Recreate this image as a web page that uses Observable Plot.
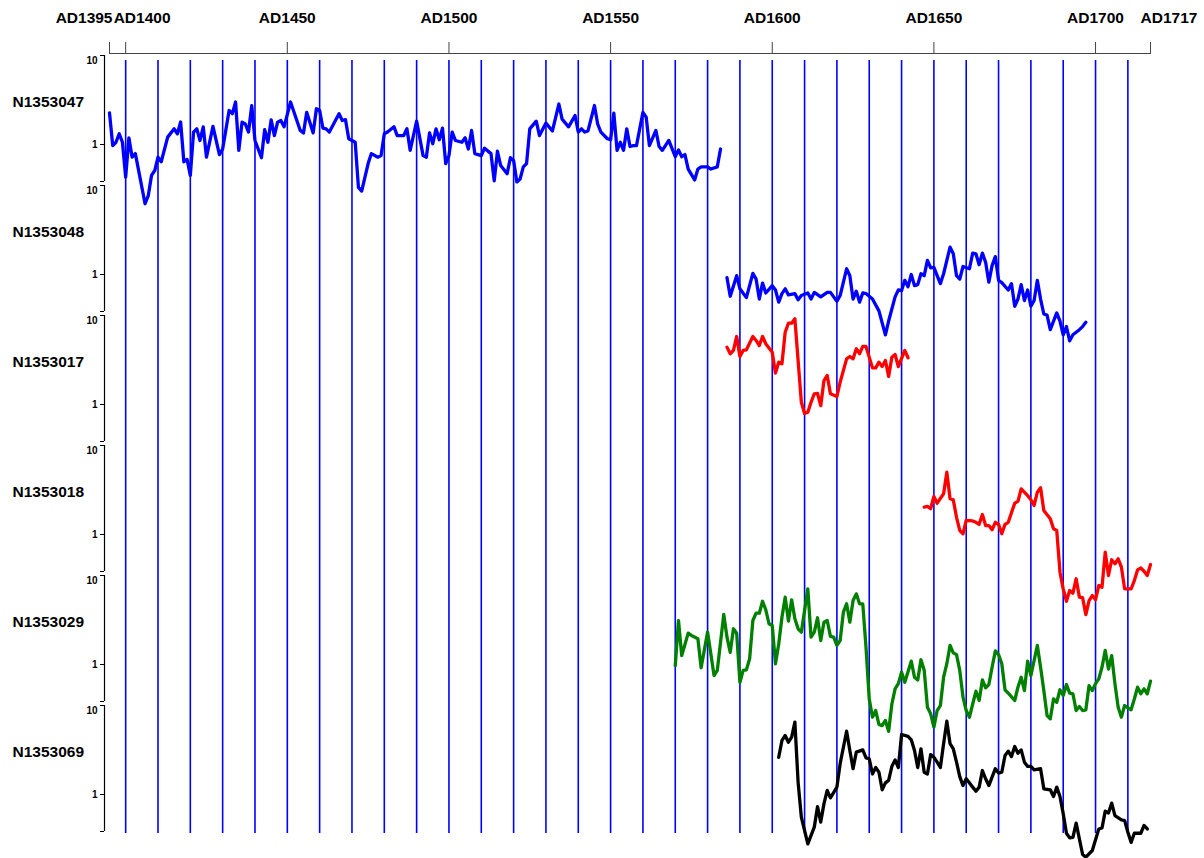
<!DOCTYPE html>
<html>
<head>
<meta charset="utf-8">
<script src="https://cdn.jsdelivr.net/npm/d3@7"></script>
<script src="https://cdn.jsdelivr.net/npm/@observablehq/plot@0.6"></script>
<style>
  body { margin: 0; background: #fff; }
  #chart svg { display: block; }
</style>
</head>
<body>
<div id="chart"></div>
<script>
// ---- data ----
const seriesNames = ["N1353047", "N1353048", "N1353017", "N1353018", "N1353029", "N1353069"];
const seriesColors = ["#0000ff", "#0000ff", "#ff0000", "#ff0000", "#008000", "#000000"];

const axisYears = [1395, 1400, 1450, 1500, 1550, 1600, 1650, 1700, 1717];
const centeredLabelYears = [1450, 1500, 1550, 1600, 1650, 1700];
const gridYears = [1400, 1410, 1420, 1430, 1440, 1450, 1460, 1470, 1480, 1490, 1500, 1510, 1520, 1530, 1540, 1550,
  1560, 1570, 1580, 1590, 1600, 1610, 1620, 1630, 1640, 1650, 1660, 1670, 1680, 1690, 1700, 1710];
const yTickValues = [10, 1];
const yBottom = 0.384;
const yTop = 10;

const n1353047 = [[1395,2.27],[1396,0.97],[1397,1.06],[1398,1.32],[1399,1.06],[1400,0.43],[1401,1.19],[1402,0.72],[1403,0.79],
  [1406,0.216],[1407,0.267],[1408,0.45],[1409,0.51],[1410,0.72],[1411,0.64],[1413,1.21],[1415,1.50],[1416,1.32],[1417,1.79],
  [1418,0.64],[1419,0.68],[1420,0.45],[1421,1.38],[1422,1.50],[1423,1.11],[1424,1.58],[1425,0.72],[1427,1.60],[1429,0.77],
  [1430,0.89],[1432,2.41],[1433,2.22],[1434,3.0],[1435,0.86],[1436,1.78],[1437,1.70],[1438,1.38],[1439,2.74],[1440,1.11],
  [1442,0.71],[1443,1.47],[1444,1.06],[1445,1.89],[1446,1.26],[1447,1.78],[1448,1.86],[1449,1.58],[1451,3.0],[1454,1.44],
  [1455,1.35],[1456,2.30],[1458,1.35],[1459,2.52],[1460,2.41],[1461,1.53],[1462,1.50],[1463,1.38],[1466,2.22],[1467,1.86],
  [1468,1.90],[1469,1.16],[1471,1.06],[1472,0.33],[1473,0.30],[1475,0.61],[1476,0.79],[1478,0.72],[1479,0.75],[1480,1.32],
  [1481,1.38],[1483,1.58],[1484,1.26],[1486,1.26],[1487,1.50],[1488,0.86],[1490,1.83],[1492,0.75],[1493,0.72],[1494,1.35],
  [1495,1.02],[1496,1.50],[1497,1.13],[1498,1.53],[1499,0.61],[1500,0.75],[1501,1.38],[1502,1.11],[1504,1.06],[1505,1.19],
  [1506,0.89],[1507,1.44],[1508,0.79],[1510,0.75],[1511,0.91],[1513,0.79],[1514,0.39],[1515,0.84],[1516,0.58],[1518,0.47],
  [1519,0.71],[1520,0.66],[1521,0.38],[1522,0.41],[1523,0.56],[1524,0.61],[1525,1.50],[1527,1.83],[1528,1.26],[1530,1.74],
  [1532,1.42],[1534,2.85],[1535,1.93],[1537,1.58],[1539,2.12],[1540,1.38],[1541,1.50],[1542,1.38],[1543,1.42],[1545,2.74],
  [1546,1.70],[1547,1.38],[1549,1.16],[1550,1.13],[1551,2.25],[1552,0.86],[1553,1.06],[1554,0.86],[1555,1.50],[1556,0.95],
  [1557,0.97],[1558,0.97],[1560,2.30],[1561,2.03],[1562,0.97],[1564,1.44],[1565,0.95],[1566,0.86],[1568,1.11],[1570,0.73],
  [1571,0.87],[1572,0.73],[1573,0.77],[1574,0.53],[1576,0.40],[1577,0.53],[1578,0.56],[1580,0.56],[1581,0.53],[1583,0.56],
  [1584,0.89]];

const n1353048 = [[1586,0.92],[1587,0.57],[1589,0.97],[1590,0.69],[1592,0.55],[1594,1.03],[1595,0.89],[1596,0.53],[1597,0.80],
  [1598,0.62],[1600,0.75],[1601,0.67],[1602,0.49],[1603,0.61],[1604,0.69],[1605,0.59],[1607,0.61],[1608,0.52],[1609,0.58],
  [1611,0.62],[1612,0.53],[1613,0.63],[1615,0.56],[1617,0.63],[1618,0.63],[1619,0.56],[1620,0.50],[1621,0.58],[1623,1.16],
  [1624,0.97],[1625,0.53],[1626,0.65],[1627,0.49],[1628,0.62],[1629,0.61],[1631,0.53],[1633,0.39],[1635,0.21],[1636,0.30],
  [1638,0.56],[1639,0.67],[1640,0.66],[1641,0.86],[1642,0.73],[1643,1.0],[1644,0.75],[1645,0.77],[1646,1.02],[1647,0.97],
  [1648,1.44],[1649,1.19],[1650,1.20],[1652,0.79],[1653,1.02],[1655,2.03],[1656,1.71],[1657,0.97],[1658,0.89],[1659,1.23],
  [1661,1.16],[1662,1.74],[1663,1.71],[1664,1.29],[1665,1.74],[1666,1.37],[1667,0.82],[1668,1.26],[1669,1.59],[1670,0.86],
  [1671,0.81],[1673,0.67],[1674,0.79],[1675,0.44],[1676,0.53],[1677,0.77],[1678,0.51],[1679,0.67],[1680,0.44],[1681,0.51],
  [1682,0.86],[1683,0.53],[1684,0.36],[1685,0.35],[1686,0.24],[1688,0.37],[1689,0.30],[1690,0.21],[1691,0.26],[1692,0.18],
  [1693,0.21],[1695,0.24],[1696,0.26],[1697,0.29]];

const n1353017 = [[1586,4.41],[1587,3.72],[1588,4.05],[1589,5.81],[1590,3.46],[1591,4.05],[1592,4.12],[1594,5.81],[1595,5.24],
  [1596,4.60],[1597,5.81],[1598,4.81],[1600,3.87],[1601,2.25],[1602,2.99],[1603,2.87],[1604,6.49],[1605,8.19],[1606,8.19],
  [1607,9.18],[1609,1.06],[1610,0.79],[1611,0.82],[1612,1.06],[1613,1.32],[1614,1.33],[1615,0.97],[1616,1.86],[1617,2.12],
  [1618,1.32],[1620,1.23],[1621,1.78],[1623,3.26],[1624,3.46],[1625,3.26],[1626,4.23],[1627,3.72],[1628,4.49],[1629,4.49],
  [1631,2.58],[1632,2.58],[1633,2.99],[1634,2.67],[1635,3.12],[1636,2.07],[1637,3.40],[1638,3.65],[1639,2.67],[1641,4.05],
  [1642,3.35]];

const n1353018 = [[1647,2.03],[1648,2.07],[1649,1.95],[1650,2.67],[1651,2.25],[1653,2.87],[1654,5.01],[1655,2.52],[1656,2.45],
  [1657,1.56],[1658,1.11],[1659,1.02],[1660,1.44],[1662,1.42],[1663,1.37],[1664,1.30],[1665,1.68],[1666,1.26],[1667,1.26],
  [1668,1.13],[1669,1.37],[1670,1.30],[1671,1.02],[1672,1.30],[1673,1.37],[1675,2.25],[1676,2.36],[1677,3.26],[1679,2.74],
  [1680,2.45],[1681,2.12],[1682,2.99],[1683,3.35],[1684,1.86],[1686,1.50],[1687,1.16],[1688,1.11],[1689,0.377],[1690,0.245],
  [1691,0.178],[1692,0.235],[1693,0.219],[1694,0.318],[1695,0.198],[1696,0.195],[1697,0.126],[1698,0.181],[1699,0.206],
  [1700,0.185],[1701,0.267],[1702,0.256],[1703,0.632],[1704,0.346],[1705,0.52],[1706,0.469],[1707,0.533],[1708,0.43],
  [1709,0.245],[1711,0.245],[1712,0.304],[1713,0.40],[1714,0.42],[1715,0.387],[1716,0.346],[1717,0.46]];

const n1353029 = [[1570,0.97],[1571,3.12],[1572,1.26],[1574,2.25],[1575,2.12],[1577,1.95],[1578,0.92],[1580,2.31],[1581,1.32],
  [1582,0.75],[1583,0.86],[1585,3.65],[1586,2.03],[1587,1.37],[1588,2.52],[1589,2.25],[1590,0.63],[1591,0.86],[1592,0.87],
  [1593,1.16],[1594,3.12],[1595,3.77],[1596,3.77],[1597,5.14],[1598,4.12],[1599,2.87],[1600,2.74],[1601,1.02],[1602,1.70],
  [1603,3.40],[1604,5.70],[1605,3.07],[1606,5.33],[1607,3.26],[1608,2.52],[1609,2.31],[1611,7.09],[1612,2.03],[1613,2.31],
  [1614,3.35],[1615,1.86],[1616,2.99],[1617,3.12],[1618,2.07],[1619,2.03],[1620,1.64],[1621,1.86],[1622,3.87],[1623,4.81],
  [1624,2.99],[1625,5.24],[1626,6.22],[1627,4.81],[1628,4.81],[1629,1.56],[1630,0.41],[1631,0.256],[1632,0.304],[1633,0.212],
  [1634,0.206],[1635,0.235],[1636,0.178],[1637,0.36],[1638,0.533],[1639,0.61],[1640,0.82],[1641,0.632],[1643,1.09],[1644,0.72],
  [1645,0.67],[1646,1.13],[1647,0.86],[1648,0.33],[1649,0.279],[1650,0.198],[1651,0.304],[1652,0.346],[1653,0.72],[1654,1.02],
  [1655,1.64],[1656,1.35],[1657,1.29],[1658,0.86],[1659,0.43],[1660,0.304],[1661,0.256],[1662,0.36],[1663,0.50],[1664,0.394],
  [1665,0.67],[1666,0.547],[1667,0.596],[1668,0.93],[1669,1.42],[1670,1.29],[1671,1.02],[1672,0.52],[1673,0.476],[1675,0.394],
  [1676,0.556],[1677,0.72],[1678,0.51],[1679,1.09],[1680,0.75],[1681,1.11],[1682,1.64],[1683,0.93],[1684,0.51],[1685,0.267],
  [1686,0.245],[1687,0.41],[1688,0.377],[1689,0.52],[1690,0.449],[1691,0.596],[1692,0.476],[1693,0.469],[1694,0.304],
  [1695,0.337],[1696,0.304],[1697,0.31],[1698,0.58],[1699,0.51],[1700,0.61],[1701,0.69],[1702,0.93],[1703,1.44],[1704,0.89],
  [1705,1.26],[1706,0.61],[1707,0.33],[1708,0.256],[1709,0.346],[1711,0.31],[1712,0.41],[1713,0.556],[1714,0.469],[1715,0.533],
  [1716,0.469],[1717,0.65]];

const n1353069 = [[1602,2.62],[1603,4.05],[1604,4.60],[1605,3.87],[1606,4.41],[1607,6.49],[1608,1.37],[1609,0.556],[1611,0.279],
  [1613,0.43],[1614,0.73],[1615,0.49],[1616,0.79],[1617,1.11],[1618,0.918],[1620,1.21],[1621,2.22],[1623,5.14],[1624,3.12],
  [1625,1.95],[1626,2.99],[1628,3.17],[1629,2.58],[1630,2.52],[1631,1.70],[1632,2.01],[1633,1.78],[1634,1.13],[1635,1.35],
  [1636,1.44],[1637,2.07],[1638,2.45],[1639,2.01],[1640,4.72],[1642,4.49],[1643,4.12],[1644,3.12],[1645,2.01],[1646,3.26],
  [1647,1.78],[1648,1.70],[1649,2.81],[1650,2.62],[1651,2.31],[1652,2.01],[1653,3.72],[1654,6.67],[1655,3.72],[1656,3.26],
  [1657,2.31],[1658,1.59],[1659,1.26],[1660,1.50],[1662,1.21],[1663,1.09],[1664,1.21],[1665,1.86],[1666,1.50],[1667,1.26],
  [1669,1.95],[1670,1.74],[1671,1.78],[1672,2.74],[1673,3.07],[1674,2.67],[1675,3.46],[1676,2.91],[1677,3.17],[1678,2.31],
  [1679,2.07],[1680,2.07],[1681,1.89],[1683,1.95],[1684,1.16],[1686,1.13],[1687,0.95],[1688,1.21],[1689,0.95],[1690,0.61],
  [1691,0.367],[1692,0.326],[1693,0.33],[1694,0.476],[1696,0.212],[1697,0.198],[1699,0.235],[1701,0.41],[1702,0.42],
  [1703,0.65],[1704,0.62],[1705,0.80],[1706,0.58],[1708,0.52],[1709,0.51],[1710,0.377],[1711,0.29],[1712,0.367],[1714,0.367],
  [1715,0.449],[1716,0.41]];

const seriesData = [n1353047, n1353048, n1353017, n1353018, n1353029, n1353069];

// ---- chart ----
const first = seriesNames[0];
const gridFirst = gridYears.map(year => ({series: first, year}));
const gridRest = seriesNames.slice(1).flatMap(series => gridYears.map(year => ({series, year})));

const lineMarks = seriesNames.map((name, i) =>
  Plot.line(seriesData[i], {
    x: d => d[0], y: d => d[1], fy: () => name,
    stroke: seriesColors[i], strokeWidth: 3.3, strokeLinejoin: "round", strokeLinecap: "round"
  })
);

const chart = Plot.plot({
  width: 1204,
  height: 858,
  marginLeft: 104,
  marginRight: 54,
  marginTop: 53,
  marginBottom: 25,
  style: {
    fontFamily: "'Liberation Sans', Arial, Helvetica, sans-serif",
    fontWeight: "bold",
    fontSize: "15.5px",
    color: "black",
    background: "white",
    overflow: "visible"
  },
  x: {domain: [1395, 1717], insetLeft: 5, axis: null, label: null},
  y: {type: "log", domain: [yBottom, yTop], insetTop: 2, insetBottom: 2, axis: null, label: null},
  fy: {domain: seriesNames, padding: 0, axis: null, label: null},
  marks: [
    // vertical decade lines
    Plot.ruleX(gridFirst, {x: "year", fy: "series", stroke: "#0000ff", strokeWidth: 1.6, insetTop: 7}),
    Plot.ruleX(gridRest, {x: "year", fy: "series", stroke: "#0000ff", strokeWidth: 1.6}),
    // per-panel y-axis bracket line
    Plot.ruleX(seriesNames, {x: () => 1395, fy: d => d, y1: yBottom, y2: yTop, dx: -5, stroke: "black", strokeWidth: 1.2}),
    Plot.axisY({anchor: "left", ticks: [yTop, 1, yBottom], tickSize: 4, tickPadding: 3, label: null,
      tickFormat: d => (d === 1 ? "1" : ""), fontSize: 10, stroke: "black"}),
    Plot.text(seriesNames, {fy: d => d, y: () => yTickValues[0], frameAnchor: "left", text: () => String(yTickValues[0]),
      textAnchor: "end", dx: -7, dy: 5, fontSize: 10}),
    // series names
    Plot.text(seriesNames, {fy: d => d, text: d => d, frameAnchor: "top-left", textAnchor: "start", dx: -92, dy: 42, fontSize: 15.5}),
    // top time axis
    Plot.axisX({anchor: "top", ticks: axisYears, tickSize: 12, tickPadding: 19, stroke: "#444", label: null,
      tickFormat: d => (centeredLabelYears.includes(d) ? "AD" + d : ""), fontSize: 15.5}),
    Plot.ruleY([first], {fy: d => d, y: () => yTop, x1: axisYears[0], x2: axisYears[axisYears.length - 1], dy: -2, stroke: "#444", strokeWidth: 1.2}),
    Plot.text([axisYears[0]], {x: d => d, fy: () => first, frameAnchor: "top", lineAnchor: "bottom", dy: -31,
      textAnchor: "end", dx: 3, text: d => "AD" + d, fontSize: 15.5}),
    Plot.text([axisYears[1]], {x: d => d, fy: () => first, frameAnchor: "top", lineAnchor: "bottom", dy: -31,
      textAnchor: "start", dx: -12, text: d => "AD" + d, fontSize: 15.5}),
    Plot.text([axisYears[axisYears.length - 1]], {x: d => d, fy: () => first, frameAnchor: "top", lineAnchor: "bottom", dy: -31,
      textAnchor: "start", dx: -10, text: d => "AD" + d, fontSize: 15.5}),
    ...lineMarks
  ]
});

document.getElementById("chart").append(chart);
</script>
</body>
</html>
